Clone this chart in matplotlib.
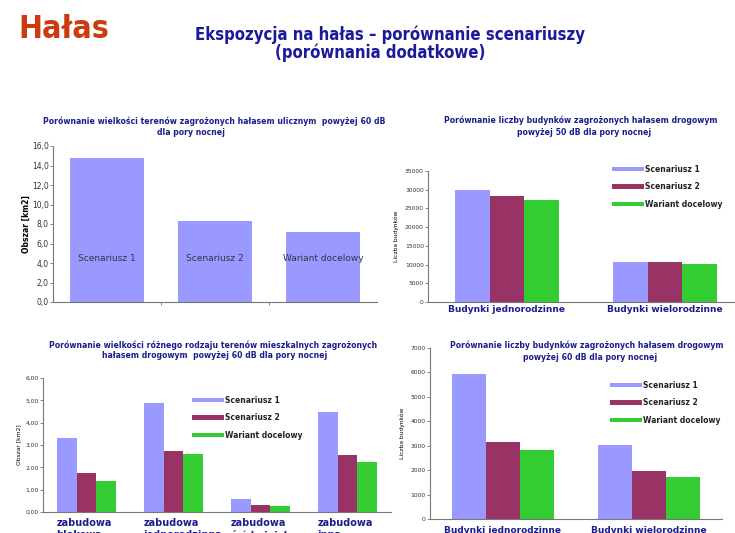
import numpy as np
import matplotlib.pyplot as plt
import matplotlib.transforms as mtransforms
from matplotlib.patches import Patch
from matplotlib.ticker import FuncFormatter

W, H = 735, 533

series = ['Scenariusz 1', 'Scenariusz 2', 'Wariant docelowy']
colors = ['#9999ff', '#993366', '#33cc33']
navy = '#1c1c8c'

# chart 1 - tereny zagrozone halasem ulicznym > 60 dB (noc)
area_values = [14.8, 8.3, 7.2]

# chart 2 - budynki > 50 dB (noc)
bud_cats = ['Budynki jednorodzinne', 'Budynki wielorodzinne']
bud50 = [[29800, 10600],   # Scenariusz 1
         [28400, 10600],   # Scenariusz 2
         [27300, 10200]]   # Wariant docelowy

# chart 3 - tereny mieszkalne > 60 dB (noc)
zab_cats = ['zabudowa\nblokowa', 'zabudowa\njednorodzinna',
            'zabudowa\nśródmiejska', 'zabudowa\ninna']
zab = [[3.32, 4.90, 0.56, 4.48],
       [1.75, 2.74, 0.33, 2.56],
       [1.39, 2.59, 0.25, 2.23]]

# chart 4 - budynki > 60 dB (noc)
bud60 = [[5950, 3030],
         [3170, 1980],
         [2830, 1720]]

fig = plt.figure(figsize=(W / 100, H / 100), dpi=100)
fig.patch.set_facecolor('white')


def px_axes(x0, y0, x1, y1):
    return fig.add_axes([x0 / W, 1 - y1 / H, (x1 - x0) / W, (y1 - y0) / H])


def style_axes(ax, tick_size):
    for s in ['top', 'right']:
        ax.spines[s].set_visible(False)
    for s in ['left', 'bottom']:
        ax.spines[s].set_color('#777777')
        ax.spines[s].set_linewidth(0.8)
    ax.tick_params(axis='y', labelsize=tick_size, length=2, width=0.6,
                   colors='#777777', labelcolor='#333333', pad=1)
    ax.tick_params(axis='x', length=0, pad=2)
    ax.set_facecolor('none')


def ftext(x, y, s, **kw):
    fig.text(x / W, 1 - y / H, s, ha='center', va='center', **kw)


def grouped(ax, data, width):
    n = len(data[0])
    x = np.arange(n) + 0.5
    for i, vals in enumerate(data):
        ax.bar(x + (i - 1) * width, vals, width, color=colors[i],
               edgecolor='none', zorder=2)
    ax.set_xlim(0, n)
    ax.set_xticks(x)
    return x


def legend(ax, x, y):
    handles = [Patch(facecolor=c, edgecolor='none') for c in colors]
    ax.legend(handles, series, loc='upper left',
              bbox_to_anchor=(x / W, 1 - y / H),
              bbox_transform=fig.transFigure, frameon=False,
              handlelength=4.2, handleheight=0.55, handletextpad=0.15,
              labelspacing=1.1, prop={'size': 5.5, 'weight': 'bold'},
              labelcolor='#222222')


# page titles (narrow heavy font in the original)
head_kw = dict(fontweight='bold', fontstretch='condensed',
               family=['DejaVu Sans'])
fig.text(18 / W, 1 - 29 / H, 'Hałas', ha='left', va='center',
         fontsize=23, color='#cc3a10', **head_kw)
ftext(390, 35, 'Ekspozycja na hałas – porównanie scenariuszy',
      fontsize=12, color='#1a1a9a', **head_kw)
ftext(380, 53, '(porównania dodatkowe)',
      fontsize=12, color='#1a1a9a', **head_kw)

sub_kw = dict(fontsize=5.6, fontweight='bold', color=navy)

# chart 1
ftext(214, 121, 'Porównanie wielkości terenów zagrożonych hałasem ulicznym  powyżej 60 dB', **sub_kw)
ftext(191, 133, 'dla pory nocnej', **sub_kw)
ax1 = px_axes(53, 146, 377, 302)
style_axes(ax1, 5.5)
x1 = np.arange(len(area_values)) + 0.5
ax1.bar(x1, area_values, 0.68, color=colors[0], edgecolor='none', zorder=2)
for xi, name in zip(x1, series):
    ax1.text(xi, 4.5, name, ha='center', va='center', fontsize=6.5,
             color='#333344', zorder=3)
ax1.set_xlim(0, 3)
ax1.set_ylim(0, 16)
ax1.set_yticks(np.arange(0, 17, 2))
ax1.yaxis.set_major_formatter(FuncFormatter(lambda v, p: f'{v:.1f}'.replace('.', ',')))
ax1.set_xticks([1, 2])
ax1.set_xticklabels([])
ax1.tick_params(axis='x', length=2, width=0.6, colors='#777777')
ax1.set_ylabel('Obszar [km2]', fontsize=5.5, fontweight='bold', labelpad=1)

# chart 2
ftext(581, 120, 'Porównanie liczby budynków zagrożonych hałasem drogowym', **sub_kw)
ftext(584, 133, 'powyżej 50 dB dla pory nocnej', **sub_kw)
ax2 = px_axes(428, 171, 744, 302)
style_axes(ax2, 4.3)
grouped(ax2, bud50, 0.22)
ax2.set_ylim(0, 35000)
ax2.set_yticks(np.arange(0, 35001, 5000))
ax2.set_xticklabels(bud_cats, fontsize=6.5, fontweight='bold', color=navy)
ax2.set_ylabel('Liczba budynków', fontsize=4.3, labelpad=4)
legend(ax2, 605, 158)

# chart 3
ftext(213, 345, 'Porównanie wielkości różnego rodzaju terenów mieszkalnych zagrożonych', **sub_kw)
ftext(215, 356, 'hałasem drogowym  powyżej 60 dB dla pory nocnej', **sub_kw)
ax3 = px_axes(43, 378, 391, 512)
style_axes(ax3, 4.3)
grouped(ax3, zab, 0.225)
ax3.set_ylim(0, 6)
ax3.set_yticks(np.arange(0, 6.01, 1))
ax3.yaxis.set_major_formatter(FuncFormatter(lambda v, p: f'{v:.2f}'.replace('.', ',')))
ax3.set_xticklabels(zab_cats, fontsize=7, fontweight='bold', color=navy,
                    ha='left', linespacing=1.3)
ax3.tick_params(axis='x', pad=4)
# labels start at the left of each group, like in the original
off = mtransforms.ScaledTranslation(-30 / 100, 0, fig.dpi_scale_trans)
for lab in ax3.get_xticklabels():
    lab.set_transform(lab.get_transform() + off)
ax3.set_ylabel('Obszar [km2]', fontsize=4.3, labelpad=3)
legend(ax3, 185, 389)

# chart 4
ftext(587, 345, 'Porównanie liczby budynków zagrożonych hałasem drogowym', **sub_kw)
ftext(590, 357, 'powyżej 60 dB dla pory nocnej', **sub_kw)
ax4 = px_axes(430, 348, 722, 519)
style_axes(ax4, 4.3)
grouped(ax4, bud60, 0.235)
ax4.set_ylim(0, 7000)
ax4.set_yticks(np.arange(0, 7001, 1000))
ax4.set_xticklabels(bud_cats, fontsize=6.5, fontweight='bold', color=navy)
ax4.tick_params(axis='x', pad=5)
ax4.set_ylabel('Liczba budynków', fontsize=4.3, labelpad=4)
legend(ax4, 603, 374)

fig.savefig('out.png', dpi=100)
